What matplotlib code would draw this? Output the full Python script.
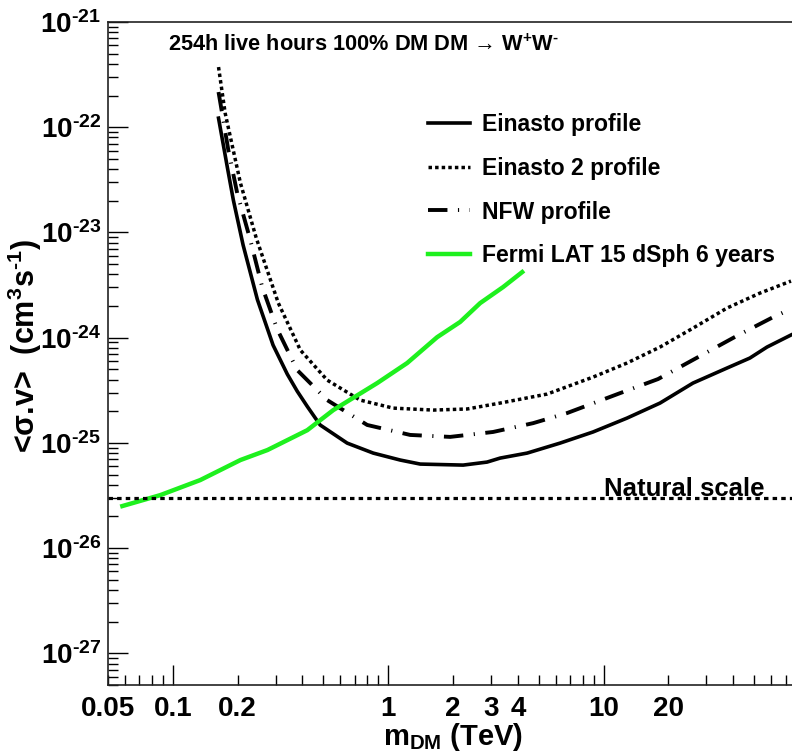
import math

import matplotlib
matplotlib.use("Agg")
import matplotlib.pyplot as plt
from matplotlib.ticker import FixedLocator, FuncFormatter, NullFormatter

# Upper limits on <sigma v> vs dark matter mass (TeV), WW channel
mass_einasto = [0.163, 0.179, 0.191, 0.212, 0.247, 0.292, 0.340, 0.378, 0.421, 0.483,
                0.645, 0.852, 1.137, 1.408, 2.228, 2.878, 3.31, 4.42, 6.28, 8.94,
                12.85, 18.29, 26.0, 37.4, 47.8, 57.4, 74.2]
sv_einasto = [1.22e-22, 4.19e-23, 2.03e-23, 7.59e-24, 2.30e-24, 8.5e-25, 4.50e-25, 3.10e-25,
              2.22e-25, 1.48e-25, 9.95e-26, 8.0e-26, 6.87e-26, 6.29e-26, 6.15e-26, 6.57e-26,
              7.17e-26, 8.0e-26, 9.95e-26, 1.27e-25, 1.72e-25, 2.39e-25, 3.70e-25, 5.14e-25,
              6.40e-25, 8.14e-25, 1.06e-24]

mass_einasto2 = [0.163, 0.175, 0.206, 0.244, 0.309, 0.391, 0.521, 0.741, 1.055, 1.618,
                 2.326, 3.31, 5.47, 8.94, 12.85, 18.29, 26.0, 37.4, 53.2, 74.2]
sv_einasto2 = [3.73e-22, 1.36e-22, 2.95e-23, 8.85e-24, 2.13e-24, 7.62e-25, 3.95e-25, 2.55e-25,
               2.14e-25, 2.05e-25, 2.10e-25, 2.39e-25, 2.91e-25, 4.22e-25, 5.74e-25, 8.14e-25,
               1.23e-24, 1.91e-24, 2.65e-24, 3.45e-24]

mass_nfw = [0.163, 0.181, 0.199, 0.229, 0.260, 0.305, 0.378, 0.521, 0.799, 1.265,
            1.94, 3.07, 4.71, 6.77, 11.93, 17.9, 27.5, 41.6, 62.5, 74.2]
sv_nfw = [2.16e-22, 6.07e-23, 2.37e-23, 8.47e-24, 3.03e-24, 1.21e-24, 4.92e-25, 2.55e-25,
          1.48e-25, 1.19e-25, 1.14e-25, 1.27e-25, 1.54e-25, 1.92e-25, 2.97e-25, 4.04e-25,
          6.54e-25, 1.04e-24, 1.60e-24, 1.87e-24]

mass_fermi = [0.0583, 0.0875, 0.134, 0.206, 0.275, 0.421, 0.556, 0.889, 1.225, 1.687,
              2.158, 2.673, 3.42, 4.19]
sv_fermi = [2.51e-26, 3.19e-26, 4.43e-26, 6.87e-26, 8.55e-26, 1.32e-25, 2.05e-25, 3.70e-25,
            5.74e-25, 1.01e-24, 1.41e-24, 2.13e-24, 3.03e-24, 4.20e-24]

natural_scale = 3e-26

x_range = (0.05, 75.0)
y_range = (5e-28, 1e-21)
x_major = [0.1, 1, 10]
x_labelled = [0.05, 0.1, 0.2, 1, 2, 3, 4, 10, 20]

HYPHEN = "\u2010"  # short minus sign used in the exponents

FONT = ["Liberation Sans", "DejaVu Sans"]
plt.rcParams.update({
    "font.family": FONT,
    "font.weight": "bold",
    "mathtext.fontset": "custom",
    "mathtext.rm": "Liberation Sans:bold",
    "mathtext.bf": "Liberation Sans:bold",
    "mathtext.it": "Liberation Sans:bold:italic",
    "mathtext.sf": "Liberation Sans:bold",
    "mathtext.default": "rm",
})

W, H = 792, 755
fig = plt.figure(figsize=(W / 100, H / 100), dpi=100)
ax = fig.add_axes([108 / W, 1 - 685 / H, (W - 108) / W, (685 - 22) / H])

ax.plot(mass_einasto, sv_einasto, color="black", lw=2.6, label="Einasto profile",
        solid_joinstyle="round")
ax.plot(mass_einasto2, sv_einasto2, color="black", lw=2.5, ls=(0, (1.0, 0.9)),
        dash_capstyle="butt", label="Einasto 2 profile")
ax.plot(mass_nfw, sv_nfw, color="black", lw=2.8, ls=(0, (5.0, 2.7, 0.3, 2.7)),
        dash_capstyle="butt", label="NFW profile")
ax.plot(mass_fermi, sv_fermi, color="#1ef01e", lw=3.2, label="Fermi LAT 15 dSph 6 years",
        solid_joinstyle="round")

ax.axhline(natural_scale, color="black", lw=2.3, ls=(0, (1.4, 1.3)), dash_capstyle="butt")
ax.text(10.0, 3.15e-26, "Natural scale", fontsize=18.5, fontweight="bold",
        ha="left", va="baseline")

ax.set_xscale("log")
ax.set_yscale("log")
ax.set_xlim(*x_range)
ax.set_ylim(*y_range)

# x ticks: long at decades, short elsewhere, labels on a chosen subset
ax.xaxis.set_major_locator(FixedLocator(x_major))
minor_x = [m * d for d in (0.01, 0.1, 1, 10) for m in range(2, 10)]
minor_x = [v for v in minor_x if x_range[0] <= v <= x_range[1]]
ax.xaxis.set_minor_locator(FixedLocator(minor_x))


def fmt_x(v, pos=None):
    for lab in x_labelled:
        if abs(v - lab) / lab < 1e-6:
            return f"{lab:g}"
    return ""


def fmt_y(v, pos=None):
    e = round(math.log10(v))
    return f"10$^{{{HYPHEN}{abs(e)}}}$"


ax.xaxis.set_major_formatter(FuncFormatter(fmt_x))
ax.xaxis.set_minor_formatter(FuncFormatter(fmt_x))

ax.yaxis.set_major_locator(FixedLocator([10.0 ** e for e in range(-27, -20)]))
ax.yaxis.set_minor_locator(FixedLocator([m * 10.0 ** e for e in range(-28, -21) for m in range(2, 10)]))
ax.yaxis.set_major_formatter(FuncFormatter(fmt_y))
ax.yaxis.set_minor_formatter(NullFormatter())

ax.tick_params(axis="both", which="both", direction="in", top=False, right=False,
               width=1.0, labelsize=20)
ax.tick_params(axis="both", which="major", length=14.5)
ax.tick_params(axis="both", which="minor", length=7.2)
ax.tick_params(axis="x", which="both", pad=8)
ax.tick_params(axis="y", which="both", pad=5)
for lab in ax.get_xticklabels(which="both") + ax.get_yticklabels():
    lab.set_fontweight("bold")

ax.spines["right"].set_visible(False)
for s in ("left", "bottom", "top"):
    ax.spines[s].set_linewidth(1.2)
    ax.spines[s].set_color("#222222")

leg = ax.legend(loc="upper left", bbox_to_anchor=(428 / W, 1 - 113 / H),
                bbox_transform=fig.transFigure, frameon=False, fontsize=16.6,
                handlelength=1.83, handletextpad=0.52, labelspacing=0.9,
                borderpad=0, borderaxespad=0)
for t in leg.get_texts():
    t.set_fontweight("bold")

fig.text(168 / W, 1 - 45 / H, f"254h live hours 100% DM DM \u2192 W$^{{+}}$W$^{{{HYPHEN}}}$",
         fontsize=15.7, fontweight="bold", ha="left", va="center")
fig.text(453 / W, 1 - 737 / H, "m$_{DM}$ (TeV)", fontsize=21, fontweight="bold",
         ha="center", va="center")
fig.text(25 / W, 1 - 346 / H, f"<\u03c3.v>  (cm$^{{3}}$s$^{{{HYPHEN}1}}$)", fontsize=22,
         fontweight="bold", rotation=90, ha="center", va="center")

fig.savefig("out.png", dpi=100)
